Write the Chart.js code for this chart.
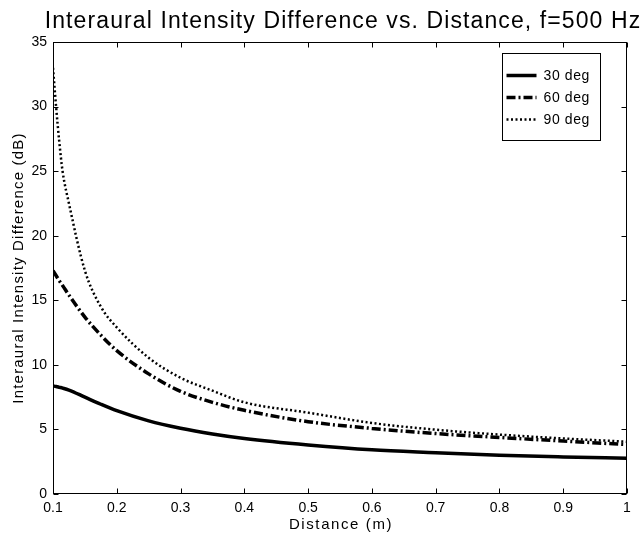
<!DOCTYPE html>
<html>
<head>
<meta charset="utf-8">
<title>Interaural Intensity Difference vs. Distance</title>
<script src="https://cdn.jsdelivr.net/npm/chart.js@4.4.1/dist/chart.umd.min.js"></script>
<style>
  html, body { margin: 0; padding: 0; background: #fff; }
  #wrap { width: 644px; height: 538px; }
</style>
</head>
<body>
<div id="wrap"><canvas id="iidChart"></canvas></div>
<script>
// distance (m) and IID (dB)
const distance = [0.1, 0.105, 0.11, 0.115, 0.125, 0.15, 0.175, 0.2, 0.25, 0.3, 0.35, 0.4, 0.5, 0.6, 0.7, 0.8, 0.9, 1.0];
const iid30 = [8.37, 8.32, 8.26, 8.2, 8.05, 7.5, 6.95, 6.45, 5.66, 5.09, 4.65, 4.3, 3.8, 3.42, 3.2, 3.0, 2.87, 2.77];
const iid60 = [17.3, 16.9, 16.5, 16.15, 15.4, 13.7, 12.3, 11.1, 9.3, 7.95, 7.1, 6.48, 5.6, 5.08, 4.68, 4.38, 4.1, 3.83];
const iid90 = [33.0, 29.9, 27.2, 25.0, 22.5, 17.3, 14.5, 12.9, 10.55, 9.0, 8.0, 7.1, 6.3, 5.5, 4.98, 4.6, 4.3, 4.05];
const seriesLabels = ['30 deg', '60 deg', '90 deg'];
const xTicks = [0.1, 0.2, 0.3, 0.4, 0.5, 0.6, 0.7, 0.8, 0.9, 1];
const yTicks = [0, 5, 10, 15, 20, 25, 30, 35];
const chartTitle = 'Interaural Intensity Difference vs. Distance, f=500 Hz';
const xTitle = 'Distance (m)';
const yTitle = 'Interaural Intensity Difference (dB)';

const FONT = '"Liberation Sans", Arial, Helvetica, sans-serif';

function toPoints(values) {
    return distance.map((d, i) => ({ x: d, y: values[i] }));
}

// box, inward ticks, titles and legend, matlab style
const matlabFrame = {
    id: 'matlabFrame',
    afterDraw(chart) {
        const { ctx, chartArea: a, scales: { x, y } } = chart;
        ctx.save();
        ctx.strokeStyle = '#000';
        ctx.lineWidth = 1;
        ctx.setLineDash([]);
        const L = Math.round(a.left) + 0.5, R = Math.round(a.right) - 0.5;
        const T = Math.round(a.top) + 0.5, B = Math.round(a.bottom) - 0.5;
        ctx.strokeRect(L, T, R - L, B - T);
        const tl = 5;
        ctx.beginPath();
        xTicks.forEach(v => {
            const px = Math.round(x.getPixelForValue(v)) + 0.5;
            ctx.moveTo(px, B); ctx.lineTo(px, B - tl);
            ctx.moveTo(px, T); ctx.lineTo(px, T + tl);
        });
        yTicks.forEach(v => {
            const py = Math.round(y.getPixelForValue(v)) + 0.5;
            ctx.moveTo(L, py); ctx.lineTo(L + tl, py);
            ctx.moveTo(R, py); ctx.lineTo(R - tl, py);
        });
        ctx.stroke();

        const cx = (a.left + a.right) / 2;
        const cy = (a.top + a.bottom) / 2;
        ctx.fillStyle = '#000';
        ctx.textAlign = 'center';

        // title
        ctx.font = '23px ' + FONT;
        ctx.letterSpacing = '1.1px';
        ctx.textBaseline = 'alphabetic';
        ctx.fillText(chartTitle, cx + 3, 28);

        // axis titles
        ctx.font = '15px ' + FONT;
        ctx.letterSpacing = '1.6px';
        ctx.textBaseline = 'middle';
        ctx.fillText(xTitle, cx + 1, 525);
        ctx.letterSpacing = '1.2px';
        ctx.save();
        ctx.translate(19, cy);
        ctx.rotate(-Math.PI / 2);
        ctx.fillText(yTitle, 0, 0);
        ctx.restore();

        // legend
        const bx = Math.round(a.right) - 125 + 0.5, by = Math.round(a.top) + 11 + 0.5;
        const bw = 98, bh = 87;
        ctx.fillStyle = '#fff';
        ctx.fillRect(bx, by, bw, bh);
        ctx.strokeRect(bx, by, bw, bh);
        ctx.font = '14px ' + FONT;
        ctx.letterSpacing = '0.6px';
        ctx.textAlign = 'left';
        ctx.textBaseline = 'middle';
        chart.data.datasets.forEach((ds, i) => {
            const ry = by + 22 + i * 22;
            ctx.strokeStyle = ds.borderColor;
            ctx.lineWidth = ds.borderWidth;
            ctx.setLineDash(ds.borderDash || []);
            ctx.beginPath();
            ctx.moveTo(bx + 4, ry);
            ctx.lineTo(bx + 34, ry);
            ctx.stroke();
            ctx.setLineDash([]);
            ctx.fillStyle = '#000';
            ctx.fillText(ds.label, bx + 41, ry + 1);
        });
        ctx.restore();
    }
};

const ctx = document.getElementById('iidChart').getContext('2d');
new Chart(ctx, {
    type: 'line',
    data: {
        datasets: [
            { label: seriesLabels[0], data: toPoints(iid30), borderColor: '#000', borderWidth: 3.5, borderDash: [] },
            { label: seriesLabels[1], data: toPoints(iid60), borderColor: '#000', borderWidth: 3.5, borderDash: [9, 3, 2, 3] },
            { label: seriesLabels[2], data: toPoints(iid90), borderColor: '#000', borderWidth: 2.5, borderDash: [2, 2.5] }
        ]
    },
    options: {
        responsive: true,
        maintainAspectRatio: false,
        animation: false,
        layout: { padding: { top: 42, right: 17, left: 0, bottom: 0 } },
        elements: {
            point: { radius: 0, hoverRadius: 0 },
            line: { cubicInterpolationMode: 'monotone', fill: false, borderCapStyle: 'butt' }
        },
        plugins: {
            legend: { display: false },
            title: { display: false },
            tooltip: { enabled: false }
        },
        scales: {
            x: {
                type: 'linear',
                min: 0.1,
                max: 1,
                afterBuildTicks: scale => { scale.ticks = xTicks.map(v => ({ value: v })); },
                afterFit: scale => { scale.height = 44; },
                grid: { display: false, drawTicks: false },
                border: { display: false },
                ticks: {
                    color: '#000',
                    font: { family: FONT, size: 14 },
                    padding: 6,
                    maxRotation: 0,
                    autoSkip: false,
                    callback: v => String(Math.round(v * 10) / 10)
                }
            },
            y: {
                min: 0,
                max: 35,
                afterBuildTicks: scale => { scale.ticks = yTicks.map(v => ({ value: v })); },
                afterFit: scale => { scale.width = 53; },
                grid: { display: false, drawTicks: false },
                border: { display: false },
                ticks: { color: '#000', font: { family: FONT, size: 14 }, padding: 6, autoSkip: false }
            }
        }
    },
    plugins: [matlabFrame]
});
</script>
</body>
</html>
